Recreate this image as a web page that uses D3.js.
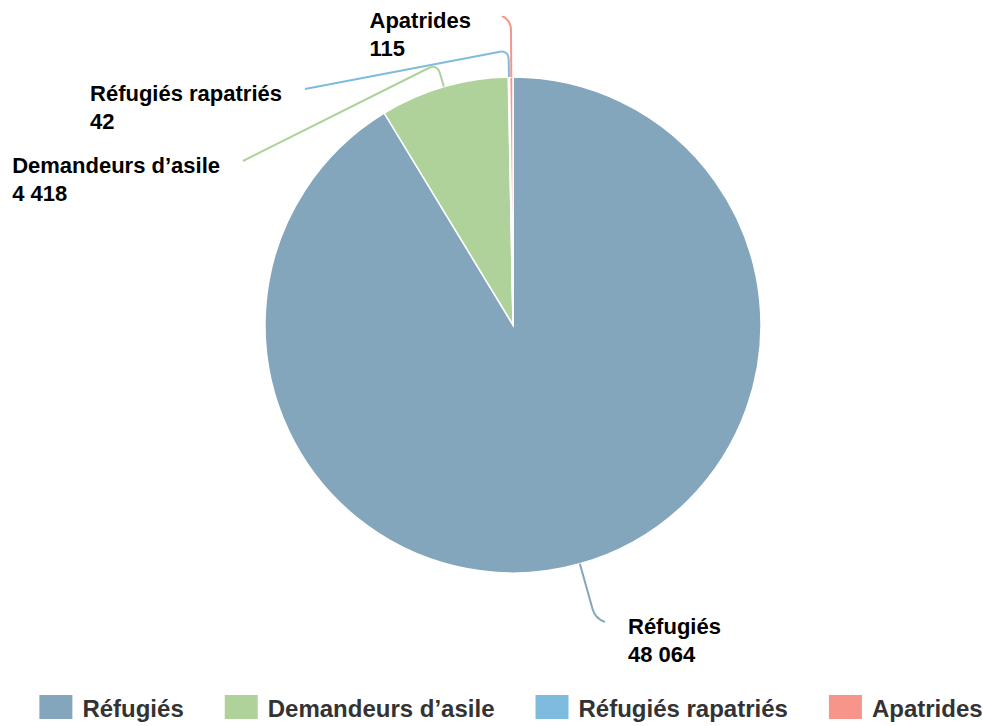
<!DOCTYPE html>
<html>
<head>
<meta charset="utf-8">
<script src="https://cdn.jsdelivr.net/npm/d3@7"></script>
<style>
  body { margin: 0; background: #fff; }
  svg { display: block; font-family: "Liberation Sans", Arial, sans-serif; }
</style>
</head>
<body>
<svg id="chart" width="983" height="726"></svg>
<script>
const categories = ['Réfugiés', 'Demandeurs d’asile', 'Réfugiés rapatriés', 'Apatrides'];
const values = [48064, 4418, 42, 115];
const colors = ['#84a6bc', '#afd29b', '#7fbbdf', '#f7958b'];

// label layout: radius of the elbow, end point of the connector (relative to centre), side of the text
const labelLayout = [
    { elbow: 305, end: [92, 297], side: 'right' },
    { elbow: 272, end: [-270, -164], side: 'left' },
    { elbow: 275, end: [-208, -236], side: 'left' },
    { elbow: 305, end: [-11, -309], side: 'left', gap: 31 }
];

const fmt = v => d3.format(',')(v).replace(/,/g, ' ');

const svg = d3.select('#chart');
const width = 983, height = 726;
const cx = 513, cy = 325, radius = 248;

const data = categories.map((c, i) => ({ name: c, value: values[i], color: colors[i], layout: labelLayout[i] }));

const pie = d3.pie().sort(null).value(d => d.value);
const arc = d3.arc().innerRadius(0).outerRadius(radius);
const arcs = pie(data);

const g = svg.append('g').attr('transform', `translate(${cx},${cy})`);

g.selectAll('path.slice').data(arcs).enter().append('path')
    .attr('class', 'slice')
    .attr('d', arc)
    .attr('fill', d => d.data.color)
    .attr('stroke', '#fff')
    .attr('stroke-width', 1.5);

// connectors
function polar(r, a) { return [r * Math.sin(a), -r * Math.cos(a)]; }

function connectorPath(d) {
    const a = (d.startAngle + d.endAngle) / 2;
    const s = polar(radius, a);
    const b = polar(d.data.layout.elbow, a);
    const e = d.data.layout.end;
    const rc = 10;
    const l1 = Math.hypot(b[0] - s[0], b[1] - s[1]);
    const l2 = Math.hypot(e[0] - b[0], e[1] - b[1]);
    const p1 = [b[0] - (b[0] - s[0]) / l1 * rc, b[1] - (b[1] - s[1]) / l1 * rc];
    const p2 = [b[0] + (e[0] - b[0]) / l2 * rc, b[1] + (e[1] - b[1]) / l2 * rc];
    return `M${s[0]},${s[1]}L${p1[0]},${p1[1]}Q${b[0]},${b[1]} ${p2[0]},${p2[1]}L${e[0]},${e[1]}`;
}

g.selectAll('path.connector').data(arcs).enter().append('path')
    .attr('class', 'connector')
    .attr('d', connectorPath)
    .attr('fill', 'none')
    .attr('stroke', d => d.data.color)
    .attr('stroke-width', 2);

// labels
const labels = g.selectAll('g.label').data(arcs).enter().append('g').attr('class', 'label');
labels.each(function(d) {
    const lg = d3.select(this);
    const t = lg.append('text')
        .attr('font-size', 22)
        .attr('font-weight', 'bold')
        .attr('fill', '#000');
    t.append('tspan').attr('x', 0).attr('y', 0).text(d.data.name);
    t.append('tspan').attr('x', 0).attr('y', 27.5).text(fmt(d.data.value));
    const w = t.node().getBBox().width;
    const e = d.data.layout.end;
    const gap = d.data.layout.gap || 23;
    const x = d.data.layout.side === 'right' ? e[0] + gap : e[0] - gap - w;
    lg.attr('transform', `translate(${x},${e[1] + 12})`);
});

// legend
const legend = svg.append('g').attr('class', 'legend');
const items = legend.selectAll('g').data(data).enter().append('g');
items.append('rect')
    .attr('width', 33).attr('height', 24)
    .attr('y', 695)
    .attr('fill', d => d.color);
items.append('text')
    .attr('x', 43).attr('y', 716.5)
    .attr('font-size', 24)
    .attr('font-weight', 'bold')
    .attr('fill', '#333')
    .text(d => d.name);

const widths = [];
items.each(function() {
    widths.push(43 + d3.select(this).select('text').node().getComputedTextLength());
});
const total = d3.sum(widths) + 41 * (widths.length - 1);
let offset = 511 - total / 2;
items.each(function(d, i) {
    d3.select(this).attr('transform', `translate(${offset},0)`);
    offset += widths[i] + 41;
});
</script>
</body>
</html>
